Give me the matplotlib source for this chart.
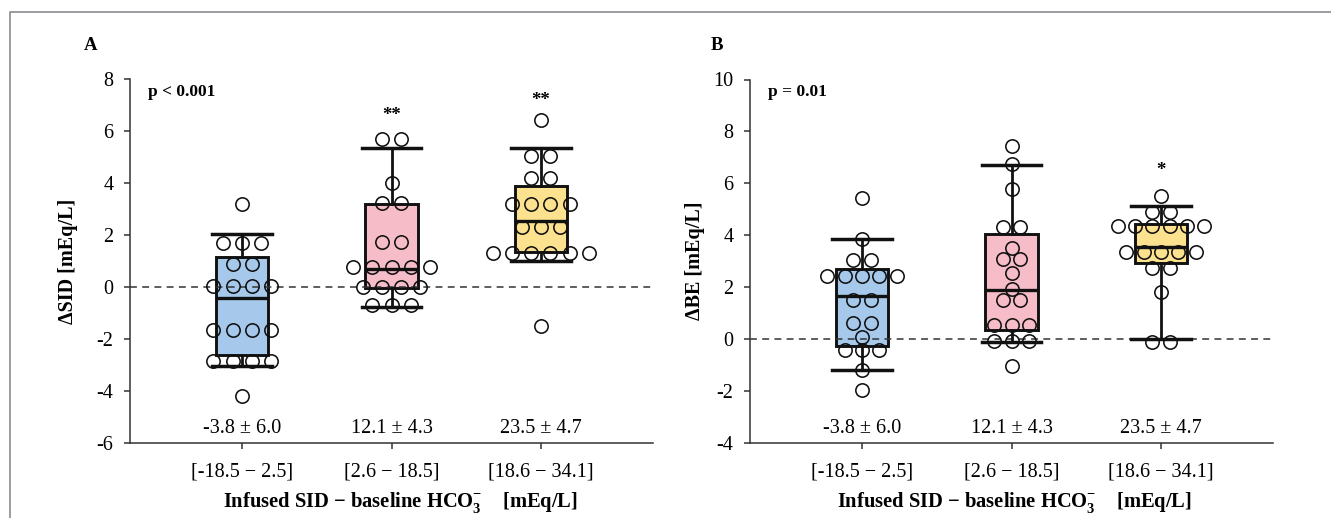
import matplotlib
matplotlib.use('Agg')
import matplotlib.pyplot as plt
import numpy as np
from matplotlib.lines import Line2D

plt.rcParams['font.family'] = ['Liberation Serif', 'DejaVu Serif']
plt.rcParams['axes.unicode_minus'] = False
plt.rcParams['mathtext.fontset'] = 'custom'
plt.rcParams['mathtext.rm'] = 'Liberation Serif'
plt.rcParams['mathtext.bf'] = 'Liberation Serif:bold'

# ---------------- data ----------------
categories = ['[-18.5 \u2212 2.5]', '[2.6 \u2212 18.5]', '[18.6 \u2212 34.1]']
group_stats = ['-3.8 \u00b1 6.0', '12.1 \u00b1 4.3', '23.5 \u00b1 4.7']
box_colors = ['#A6C8EB', '#F6BDC9', '#FCE18E']

# Panel A: delta SID, individual values per group
sid_low = [3.2, 1.7, 1.7, 1.7, 0.9, 0.9, 0.05, 0.05, 0.05, 0.05,
           -1.65, -1.65, -1.65, -1.65, -2.85, -2.85, -2.85, -2.85, -4.2]
sid_mid = [5.7, 5.7, 4.0, 3.25, 3.25, 1.75, 1.75, 0.78, 0.78, 0.78, 0.78, 0.78,
           0.0, 0.0, 0.0, 0.0, -0.7, -0.7, -0.7]
sid_high = [6.45, 5.05, 5.05, 4.2, 4.2, 3.2, 3.2, 3.2, 3.2, 2.32, 2.32, 2.32,
            1.3, 1.3, 1.3, 1.3, 1.3, 1.3, -1.5]
sid_q1 = [-2.6, -0.03, 1.35]
sid_med = [-0.4, 0.7, 2.55]
sid_q3 = [1.18, 3.2, 3.9]
sid_wlo = [-3.05, -0.75, 1.0]
sid_whi = [2.05, 5.35, 5.35]

# Panel B: delta BE
be_low = [5.45, 3.85, 3.05, 3.05, 2.45, 2.45, 2.45, 2.45, 2.45, 1.5, 1.5,
          0.62, 0.62, 0.1, -0.4, -0.4, -0.4, -1.2, -1.95]
be_mid = [7.45, 6.75, 5.8, 4.3, 4.3, 3.5, 3.07, 3.07, 2.55, 1.95, 1.5, 1.5,
          0.55, 0.55, 0.55, -0.06, -0.06, -0.06, -1.05]
be_high = [5.52, 4.9, 4.9, 4.37, 4.37, 4.37, 4.37, 4.37, 4.37,
           3.37, 3.37, 3.37, 3.37, 3.37, 2.73, 2.73, 1.83, -0.12, -0.12]
be_q1 = [-0.27, 0.37, 2.95]
be_med = [1.65, 1.9, 3.55]
be_q3 = [2.72, 4.05, 4.45]
be_wlo = [-1.2, -0.12, 0.0]
be_whi = [3.85, 6.72, 5.13]

sig_A_groups = [1, 2]
sig_A_marks = ['**', '**']
sig_A_y = [6.6, 7.2]
sig_B_groups = [2]
sig_B_marks = ['*']
sig_B_y = [6.5]

# ---------------- figure ----------------
W, H = 1331, 518
fig = plt.figure(figsize=(W / 100, H / 100), dpi=100)
axA = fig.add_axes([130 / W, 1 - 443 / H, 523 / W, 363.5 / H])
axB = fig.add_axes([750 / W, 1 - 443 / H, 523 / W, 363.5 / H])

# figure frame (left and top)
fig.add_artist(Line2D([10 / W, 10 / W, 1.0], [0.0, 1 - 12 / H, 1 - 12 / H],
                      transform=fig.transFigure, color='#8a8a90', lw=1.2))


def swarm_offsets(vals, spacing):
    vals = np.asarray(vals)
    offs = np.zeros(len(vals))
    for v in np.unique(vals):
        idx = np.where(vals == v)[0]
        n = len(idx)
        offs[idx] = (np.arange(n) - (n - 1) / 2) * spacing
    return offs


def draw_panel(ax, groups, q1, med, q3, wlo, whi, ylim, yticks, ylabel,
               pval, sig_g, sig_m, sig_y, spacing, ylab_x, xlab_x, letter, letter_x):
    stats = []
    for i in range(3):
        stats.append(dict(med=med[i], q1=q1[i], q3=q3[i], whislo=wlo[i],
                          whishi=whi[i], fliers=[]))
    bp = ax.bxp(stats, positions=[0, 1, 2], widths=0.35, capwidths=0.4,
                patch_artist=True, showfliers=False, manage_ticks=False,
                boxprops=dict(lw=2.1, edgecolor='#111111'),
                whiskerprops=dict(lw=2.0, color='#111111'),
                capprops=dict(lw=2.5, color='#111111'),
                medianprops=dict(lw=2.4, color='#111111'))
    for patch, c in zip(bp['boxes'], box_colors):
        patch.set_facecolor(c)
        patch.set_zorder(2)
    for key in ['whiskers', 'caps', 'medians']:
        for ln in bp[key]:
            ln.set_zorder(4)
    ax.axhline(0, ls=(0, (4.5, 3.5)), color='#333333', lw=1.1, zorder=3)
    for i, vals in enumerate(groups):
        offs = swarm_offsets(vals, spacing)
        ax.plot(i + offs, vals, 'o', ms=9.6, mfc='none', mec='#111111',
                mew=1.15, zorder=5, clip_on=False, ls='none')
    ax.set_xlim(-0.75, 2.75)
    ax.set_ylim(*ylim)
    ax.set_yticks(yticks)
    ax.set_yticklabels([str(t) for t in yticks])
    ax.set_xticks([0, 1, 2])
    ax.set_xticklabels(categories)
    for s in ['top', 'right']:
        ax.spines[s].set_visible(False)
    for s in ['left', 'bottom']:
        ax.spines[s].set_color('#333333')
        ax.spines[s].set_linewidth(1.1)
    ax.tick_params(axis='y', length=4, width=1.1, color='#333333', pad=8,
                   labelsize=14.5)
    ax.tick_params(axis='x', length=4, width=1.1, color='#333333', pad=10,
                   labelsize=14.5)
    ax.set_ylabel(ylabel, fontsize=14.5, fontweight='bold')
    ax.yaxis.set_label_coords(ylab_x, 0.5)
    ax.set_xlabel('Infused SID \u2212 baseline HCO$_\\mathbf{3}^\\mathbf{-}$    [mEq/L]',
                  fontsize=14.8, fontweight='bold')
    ax.xaxis.set_label_coords(xlab_x, -0.128)
    for i, t in enumerate(group_stats):
        ax.text(i, 0.04, t, transform=ax.get_xaxis_transform(), ha='center',
                va='center', fontsize=14.5)
    for g, m, y in zip(sig_g, sig_m, sig_y):
        ax.text(g, y, m, ha='center', va='center', fontsize=13.5, fontweight='bold')
    ax.text(0.034, 0.965, pval, transform=ax.transAxes, ha='left', va='center',
            fontsize=12.5, fontweight='bold')
    ax.text(letter_x, 1.093, letter, transform=ax.transAxes, ha='center',
            va='center', fontsize=13.5, fontweight='bold')


draw_panel(axA, [sid_low, sid_mid, sid_high], sid_q1, sid_med, sid_q3, sid_wlo,
           sid_whi, (-6, 8), list(range(-6, 9, 2)), '\u0394SID [mEq/L]',
           'p < 0.001', sig_A_groups, sig_A_marks, sig_A_y, 0.128, -0.099, 0.518,
           'A', -0.075)
draw_panel(axB, [be_low, be_mid, be_high], be_q1, be_med, be_q3, be_wlo,
           be_whi, (-4, 10), list(range(-4, 11, 2)), '\u0394BE [mEq/L]',
           'p = 0.01', sig_B_groups, sig_B_marks, sig_B_y, 0.116, -0.086, 0.505,
           'B', -0.063)

fig.savefig('out.png', dpi=100)
